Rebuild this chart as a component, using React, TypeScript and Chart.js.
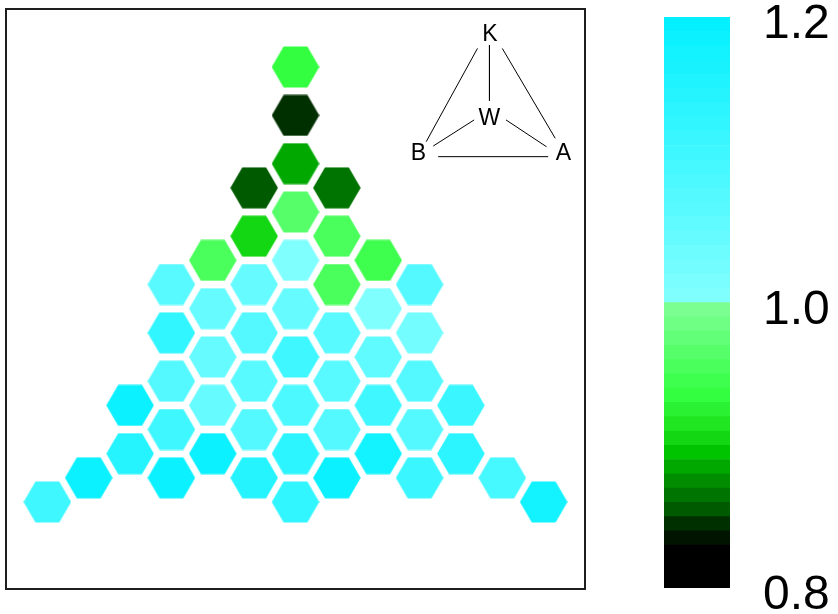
import React, { useEffect, useRef } from 'react';
import { Chart, registerables } from 'chart.js';

Chart.register(...registerables);

// Hexagonal cells: column index, row level (in half-row steps) and value
const cellCol = [
  0, 0, 0, 0, 0, 0, 0, 0, 0, 0,
  -1, -1, -1, -1, -1, -1, -1,
  1, 1, 1, 1, 1, 1, 1,
  -2, -2, -2, -2, -2,
  2, 2, 2, 2, 2,
  -3, -3, -3, -3, -3,
  3, 3, 3, 3, 3,
  -4, -4, 4, 4,
  -5, 5,
  -6, 6,
];
const cellRow = [
  18, 16, 14, 12, 10, 8, 6, 4, 2, 0,
  13, 11, 9, 7, 5, 3, 1,
  13, 11, 9, 7, 5, 3, 1,
  10, 8, 6, 4, 2,
  10, 8, 6, 4, 2,
  9, 7, 5, 3, 1,
  9, 7, 5, 3, 1,
  4, 2, 4, 2,
  1, 1,
  0, 0,
];
const cellValue = [
  0.935, 0.845, 0.885, 0.965, 1.005, 1.04, 1.10, 1.085, 1.135, 1.12,
  0.855, 0.905, 1.04, 1.075, 1.065, 1.075, 1.14,
  0.865, 0.955, 0.955, 1.065, 1.065, 1.07, 1.185,
  0.955, 1.04, 1.04, 1.045, 1.18,
  0.945, 1.005, 1.055, 1.10, 1.17,
  1.06, 1.12, 1.075, 1.10, 1.18,
  1.07, 1.025, 1.07, 1.07, 1.115,
  1.18, 1.14, 1.115, 1.13,
  1.18, 1.09,
  1.10, 1.17,
];

// Colour scale: 0.01-wide bands from 0.8 to 1.2
const scaleMin = 0.8;
const scaleMax = 1.2;
const scaleStep = 0.01;
const lowBandColors = [
  '#000000', '#000000', '#000000', '#001400', '#003000',
  '#005a00', '#007400', '#008e00', '#00a800', '#00c400',
  '#14d714', '#20e622', '#2af232', '#33ff40', '#3eff4e',
  '#4aff5c', '#56ff6a', '#62ff78', '#6eff84', '#7aff90',
];
const highBandFrom = [128, 255, 255];
const highBandTo = [5, 240, 255];
const tickValues = [0.8, 1.0, 1.2];
const tickLabels = ['0.8', '1.0', '1.2'];

// Tetrahedron key in the corner
const keyLabels = ['K', 'W', 'B', 'A'];
const keyLabelX = [4.70, 4.69, 2.97, 6.48];
const keyLabelY = [19.32, 15.88, 14.43, 14.43];
const keyEdgeX0 = [4.69, 4.40, 5.00, 4.32, 5.09, 3.45];
const keyEdgeY0 = [18.91, 18.77, 18.77, 15.81, 15.81, 14.29];
const keyEdgeX1 = [4.69, 3.16, 6.28, 3.33, 6.07, 6.11];
const keyEdgeY1 = [16.61, 14.91, 15.05, 14.73, 14.70, 14.29];

const bandCount = Math.round((scaleMax - scaleMin) / scaleStep);
const half = lowBandColors.length;

function bandColor(i: number): string {
  if (i < half) return lowBandColors[i];
  const t = (i - half) / (bandCount - half - 1);
  const c = highBandFrom.map((a, k) => Math.round(a + (highBandTo[k] - a) * t));
  return `rgb(${c[0]},${c[1]},${c[2]})`;
}

function colorFor(v: number): string {
  let i = Math.floor((v - scaleMin) / scaleStep + 1e-6);
  i = Math.max(0, Math.min(bandCount - 1, i));
  return bandColor(i);
}

const hexCache: Record<string, HTMLCanvasElement> = {};
function hexImage(color: string): HTMLCanvasElement {
  if (hexCache[color]) return hexCache[color];
  const c = document.createElement('canvas');
  c.width = 48;
  c.height = 42;
  const g = c.getContext('2d')!;
  const R = 23.8;
  const cx = 24;
  const cy = 21;
  g.beginPath();
  for (let k = 0; k < 6; k++) {
    const a = (Math.PI / 3) * k;
    const px = cx + R * Math.cos(a);
    const py = cy + R * Math.sin(a);
    if (k === 0) g.moveTo(px, py);
    else g.lineTo(px, py);
  }
  g.closePath();
  g.fillStyle = color;
  g.fill();
  hexCache[color] = c;
  return c;
}

const FONT = "'Liberation Sans', Arial, sans-serif";

const framePlugin = {
  id: 'frame',
  afterDraw(chart: any) {
    const { ctx, chartArea: a } = chart;
    ctx.save();
    ctx.strokeStyle = '#1e1e1e';
    ctx.lineWidth = 2;
    ctx.strokeRect(a.left, a.top, a.right - a.left, a.bottom - a.top);
    ctx.restore();
  },
};

const keyLabelPlugin = {
  id: 'keyLabels',
  afterDatasetsDraw(chart: any) {
    const { ctx, scales } = chart;
    ctx.save();
    ctx.fillStyle = '#000';
    ctx.font = `23px ${FONT}`;
    ctx.textAlign = 'center';
    ctx.textBaseline = 'middle';
    keyLabels.forEach((t, i) => {
      ctx.fillText(t, scales.x.getPixelForValue(keyLabelX[i]), scales.y.getPixelForValue(keyLabelY[i]));
    });
    ctx.restore();
  },
};

export default function App() {
  const mainRef = useRef<HTMLCanvasElement>(null);
  const barRef = useRef<HTMLCanvasElement>(null);

  useEffect(() => {
    const cells = cellCol.map((c, i) => ({ x: c, y: cellRow[i], v: cellValue[i] }));
    const edges = keyEdgeX0.map((x0, i) => ({
      type: 'scatter' as const,
      data: [
        { x: x0, y: keyEdgeY0[i] },
        { x: keyEdgeX1[i], y: keyEdgeY1[i] },
      ],
      showLine: true,
      borderColor: '#000',
      borderWidth: 1,
      pointRadius: 0,
    }));

    const main = new Chart(mainRef.current!, {
      type: 'scatter',
      data: {
        datasets: [
          {
            data: cells,
            pointStyle: (ctx: any) => hexImage(colorFor(ctx.raw ? ctx.raw.v : 1)),
            pointRadius: 20,
          } as any,
          ...edges,
        ],
      },
      options: {
        responsive: false,
        animation: false,
        events: [],
        layout: { autoPadding: false, padding: { left: 6, top: 9, right: 15, bottom: 25 } },
        scales: {
          x: { type: 'linear', min: -7, max: 7, display: false },
          y: { type: 'linear', min: -3.6, max: 20.4, display: false },
        },
        plugins: { legend: { display: false }, tooltip: { enabled: false } },
      },
      plugins: [framePlugin, keyLabelPlugin],
    });

    const bands = Array.from({ length: bandCount }, (_, i) => ({
      data: [[scaleMin + i * scaleStep, scaleMin + (i + 1) * scaleStep]],
      backgroundColor: bandColor(i),
      borderWidth: 0,
      barPercentage: 1,
      categoryPercentage: 1,
      grouped: false,
    }));

    const bar = new Chart(barRef.current!, {
      type: 'bar',
      data: { labels: [''], datasets: bands as any },
      options: {
        responsive: false,
        animation: false,
        events: [],
        layout: { autoPadding: false, padding: { left: 0, top: 17, right: 0, bottom: 26 } },
        scales: {
          x: { display: false },
          y: {
            position: 'right',
            min: scaleMin,
            max: scaleMax,
            grid: { display: false, drawTicks: false },
            border: { display: false },
            afterBuildTicks: (s: any) => {
              s.ticks = tickValues.map((v) => ({ value: v }));
            },
            afterFit: (s: any) => {
              s.width = 108;
              s.paddingTop = 0;
              s.paddingBottom = 0;
            },
            ticks: {
              padding: 33,
              labelOffset: 8,
              color: '#000',
              font: { family: FONT, size: 48 },
              callback: (v: any) => {
                const k = tickValues.findIndex((t) => Math.abs(t - Number(v)) < 1e-9);
                return k >= 0 ? tickLabels[k] : '';
              },
            },
          },
        },
        plugins: { legend: { display: false }, tooltip: { enabled: false } },
      },
    });

    return () => {
      main.destroy();
      bar.destroy();
    };
  }, []);

  return (
    <div style={{ position: 'absolute', left: 0, top: 0, width: 838, height: 614, background: '#fff' }}>
      <canvas ref={mainRef} width={600} height={614} style={{ position: 'absolute', left: 0, top: 0 }} />
      <canvas ref={barRef} width={174} height={614} style={{ position: 'absolute', left: 664, top: 0 }} />
    </div>
  );
}
